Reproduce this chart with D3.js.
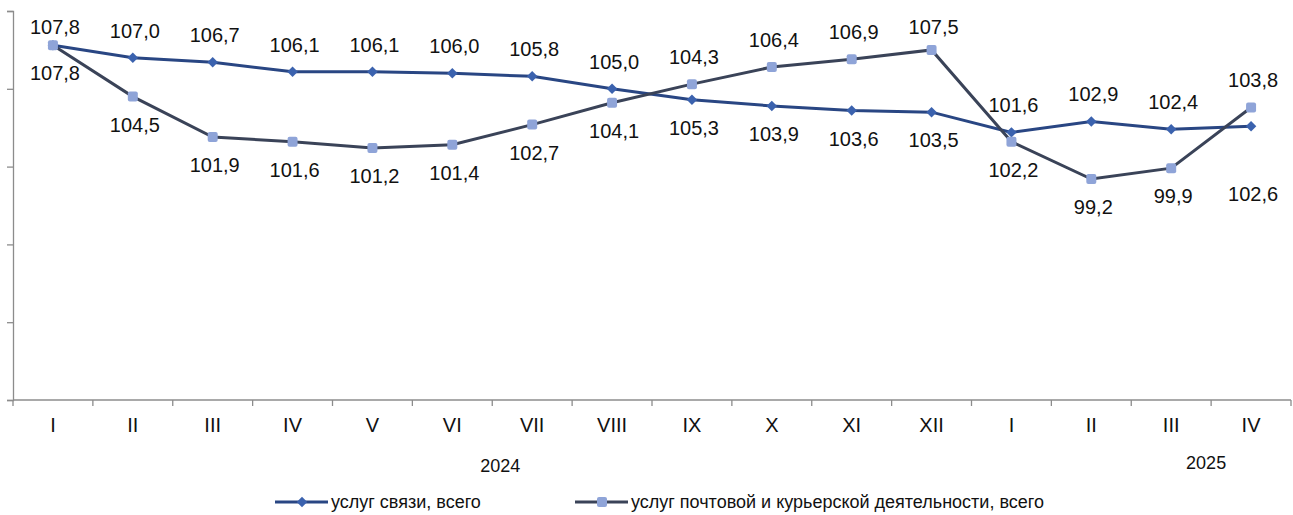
<!DOCTYPE html>
<html><head><meta charset="utf-8">
<script src="https://cdn.jsdelivr.net/npm/d3@7"></script>
<style>body{margin:0;background:#fff} svg{display:block}</style>
</head><body>
<svg id="c" width="1293" height="515"></svg>
<script>
const categories = ["I","II","III","IV","V","VI","VII","VIII","IX","X","XI","XII","I","II","III","IV"];
const years = ["2024","2025"];
const seriesNames = ["услуг связи, всего","услуг почтовой и курьерской деятельности, всего"];
const communication = [107.8,107.0,106.7,106.1,106.1,106.0,105.8,105.0,104.3,103.9,103.6,103.5,102.2,102.9,102.4,102.6];
const postal = [107.8,104.5,101.9,101.6,101.2,101.4,102.7,104.1,105.3,106.4,106.9,107.5,101.6,99.2,99.9,103.8];
const yTicks = [85,90,95,100,105,110];
// label side: a = above, b = below, bb = far below
const commSide = ["a","a","a","a","a","a","a","a","a","b","b","b","b","a","a","bb"];
const postSide = ["b","b","b","b","b","b","b","b","b","a","a","a","a","b","b","a"];

const svg = d3.select("#c");
const idx = d3.range(categories.length);
const x = d3.scaleBand().domain(idx).range([13, 1291]);
const y = d3.scaleLinear().domain([85,110]).range([400, 11]);
const cx = i => x(i) + x.bandwidth()/2;
const axisColor = "#8c8c8c";

// y axis
const yAxis = d3.axisLeft(y).tickValues(yTicks).tickSize(6).tickFormat("");
const gy = svg.append("g").attr("transform","translate(13,0)").call(yAxis);
gy.select(".domain").attr("stroke",axisColor).attr("stroke-width",1.3);
gy.selectAll(".tick line").attr("stroke",axisColor).attr("stroke-width",1.3);

// x axis
const gx = svg.append("g").attr("transform","translate(0,400)");
gx.append("line").attr("x1",13).attr("x2",1291).attr("y1",0).attr("y2",0).attr("stroke",axisColor).attr("stroke-width",1.3);
gx.selectAll("line.t").data(d3.range(categories.length+1)).join("line").attr("class","t")
  .attr("x1",i=>13 + i*x.step()).attr("x2",i=>13 + i*x.step()).attr("y1",0).attr("y2",6)
  .attr("stroke",axisColor).attr("stroke-width",1.3);
gx.selectAll("text").data(categories).join("text")
  .attr("x",(d,i)=>cx(i)).attr("y",25).attr("dy","0.35em").attr("text-anchor","middle")
  .attr("font-family","Liberation Sans, Arial, sans-serif").attr("font-size",20).attr("fill","#111").text(d=>d);

// year labels
svg.append("text").attr("x",(cx(0)+cx(11))/2+8).attr("y",466).attr("dy","0.35em").attr("text-anchor","middle")
  .attr("font-family","Liberation Sans, Arial, sans-serif").attr("font-size",18).attr("fill","#111").text(years[0]);
svg.append("text").attr("x",(cx(14)+cx(15))/2-5).attr("y",463).attr("dy","0.35em").attr("text-anchor","middle")
  .attr("font-family","Liberation Sans, Arial, sans-serif").attr("font-size",18).attr("fill","#111").text(years[1]);

const line = d3.line().x((d,i)=>cx(i)).y(d=>y(d));
const c1Line = "#294683", c1Mark = "#3B62AE";
const c2Line = "#3A4358", c2Mark = "#8FA4D8";

svg.append("path").datum(communication).attr("d",line).attr("fill","none").attr("stroke",c1Line).attr("stroke-width",3);
svg.append("path").datum(postal).attr("d",line).attr("fill","none").attr("stroke",c2Line).attr("stroke-width",3);

// markers
svg.selectAll("path.dm").data(communication).join("path").attr("class","dm")
  .attr("d",d3.symbol(d3.symbolDiamond2 || d3.symbolDiamond, 70))
  .attr("transform",(d,i)=>`translate(${cx(i)},${y(d)})`)
  .attr("fill",c1Mark);
svg.selectAll("rect.sq").data(postal).join("rect").attr("class","sq")
  .attr("x",(d,i)=>cx(i)-5).attr("y",d=>y(d)-5).attr("width",10).attr("height",10).attr("rx",2)
  .attr("fill",c2Mark);

const fmt = v => d3.format(".1f")(v).replace(".",",");
function labelY(i, own, side){
  const a = y(communication[i]), b = y(postal[i]);
  if(side==="a") return Math.max(Math.min(a,b) - 27, 27);
  if(side==="bb") return y(own) + 68;
  return Math.max(a,b) + 28;
}
const lblFont = "Liberation Sans, Arial, sans-serif";
svg.selectAll("text.l1").data(communication).join("text").attr("class","l1")
  .attr("x",(d,i)=>cx(i)+2).attr("y",(d,i)=>labelY(i,d,commSide[i])).attr("dy","0.35em")
  .attr("text-anchor","middle").attr("font-family",lblFont).attr("font-size",20).attr("fill","#111").text(fmt);
svg.selectAll("text.l2").data(postal).join("text").attr("class","l2")
  .attr("x",(d,i)=>cx(i)+2).attr("y",(d,i)=>labelY(i,d,postSide[i])).attr("dy","0.35em")
  .attr("text-anchor","middle").attr("font-family",lblFont).attr("font-size",20).attr("fill","#111").text(fmt);

// legend
const legend = [
  {name: seriesNames[0], line: c1Line, mark: c1Mark, type:"d", x: 275},
  {name: seriesNames[1], line: c2Line, mark: c2Mark, type:"s", x: 575}
];
const lg = svg.append("g");
legend.forEach(l=>{
  const g = lg.append("g").attr("transform",`translate(${l.x},502)`);
  g.append("line").attr("x1",0).attr("x2",53).attr("stroke",l.line).attr("stroke-width",3);
  if(l.type==="d") g.append("path").attr("d",d3.symbol(d3.symbolDiamond2 || d3.symbolDiamond,70)).attr("transform","translate(27,0)").attr("fill",l.mark);
  else g.append("rect").attr("x",22).attr("y",-5).attr("width",10).attr("height",10).attr("rx",2).attr("fill",l.mark);
  g.append("text").attr("x",56).attr("dy","0.35em").attr("font-family","Liberation Sans Narrow, Arial Narrow, Liberation Sans, sans-serif")
    .attr("font-size",18).attr("fill","#111").text(l.name);
});
</script>
</body></html>
